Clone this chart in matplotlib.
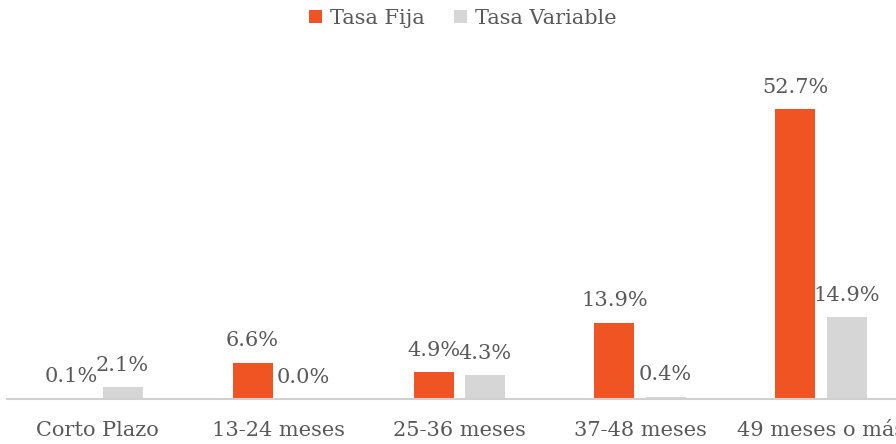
import numpy as np
import matplotlib.pyplot as plt

categorias = ["Corto Plazo", "13-24 meses", "25-36 meses", "37-48 meses", "49 meses o más"]
tasa_fija = [0.1, 6.6, 4.9, 13.9, 52.7]
tasa_variable = [2.1, 0.0, 4.3, 0.4, 14.9]

naranja = "#F05423"
gris = "#D6D6D6"
texto = "#595959"

plt.rcParams["font.family"] = "DejaVu Serif"

fig = plt.figure(figsize=(8.96, 4.44), dpi=100)
# el eje se sale un poco por la derecha
ax = fig.add_axes([0.0073, 1 - 399 / 444, 1.010, 330 / 444])

x = np.arange(len(categorias))
ancho = 0.221
desp = 0.141

b1 = ax.bar(x - desp, tasa_fija, ancho, color=naranja, label="Tasa Fija")
b2 = ax.bar(x + desp, tasa_variable, ancho, color=gris, label="Tasa Variable")

for barras, valores in ((b1, tasa_fija), (b2, tasa_variable)):
    for b, v in zip(barras, valores):
        ax.annotate(f"{v:.1f}%", (b.get_x() + b.get_width() / 2, v),
                    xytext=(0, 9), textcoords="offset points",
                    ha="center", va="bottom", fontsize=15, color=texto)

ax.set_xlim(-0.5, len(categorias) - 0.5)
ax.set_ylim(0, 60)
ax.set_xticks(x)
ax.set_xticklabels(categorias, fontsize=15, color=texto)
ax.tick_params(axis="x", length=0, pad=16)
ax.set_yticks([])
for lado in ("top", "right", "left"):
    ax.spines[lado].set_visible(False)
ax.spines["bottom"].set_color("#D0D0D0")
ax.spines["bottom"].set_linewidth(1.5)

fig.legend(handles=[b1, b2], loc="center", bbox_to_anchor=(463 / 896, 1 - 18 / 444),
           ncol=2, frameon=False, fontsize=15, labelcolor=texto,
           handlelength=0.6, handleheight=0.6, handletextpad=0.4, columnspacing=1.4)

fig.savefig("out.png", dpi=100)
